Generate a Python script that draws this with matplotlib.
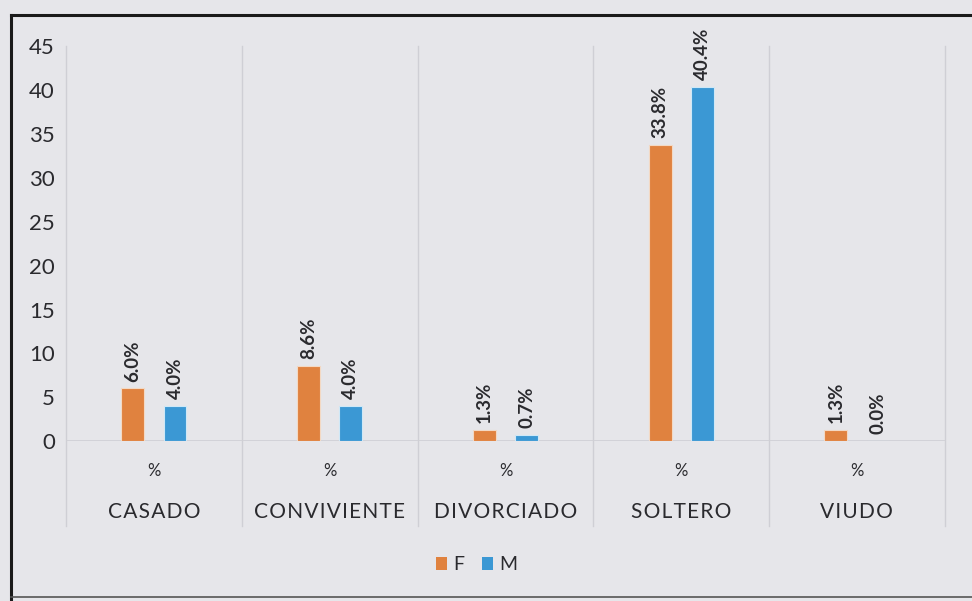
import matplotlib
matplotlib.use("Agg")
import matplotlib.pyplot as plt
from matplotlib.lines import Line2D
from matplotlib.patches import Patch
import numpy as np

categories = ["CASADO", "CONVIVIENTE", "DIVORCIADO", "SOLTERO", "VIUDO"]
sub_label = "%"
series_names = ["F", "M"]
values_f = [6.0, 8.6, 1.3, 33.8, 1.3]
values_m = [4.0, 4.0, 0.7, 40.4, 0.0]
y_ticks = [0, 5, 10, 15, 20, 25, 30, 35, 40, 45]

color_f = "#e0823f"
color_m = "#3b98d4"
bg = "#e6e6ea"
grid_c = "#cfcfd5"
text_c = "#2a2a2e"

plt.rcParams["font.family"] = ["Lato", "DejaVu Sans"]

fig = plt.figure(figsize=(9.72, 6.01), dpi=100, facecolor=bg)
ax = fig.add_axes([0.068, 0.266, 0.904, 0.657])
ax.set_facecolor(bg)

x = np.arange(len(categories))
w = 0.13
off = 0.12
bars_f = ax.bar(x - off, values_f, w, color=color_f, edgecolor="#f3d9c4", linewidth=0.8, zorder=3)
bars_m = ax.bar(x + off, values_m, w, color=color_m, edgecolor="#cfe8f7", linewidth=0.8, zorder=3)

for bars, vals in ((bars_f, values_f), (bars_m, values_m)):
    for b, v in zip(bars, vals):
        ax.annotate(f"{v:.1f}%", (b.get_x() + b.get_width() / 2, v),
                    xytext=(0, 5), textcoords="offset points",
                    rotation=90, ha="center", va="bottom",
                    fontsize=13.5, fontweight="bold", color=text_c, zorder=4)

ax.set_xlim(-0.5, len(categories) - 0.5)
ax.set_ylim(0, 45)
ax.set_yticks(y_ticks)
ax.tick_params(axis="y", length=0, labelsize=16, labelcolor=text_c, pad=8)
ax.set_xticks([])
for s in ax.spines.values():
    s.set_visible(False)

# baseline at zero
ax.axhline(0, color=grid_c, linewidth=1.2, zorder=2)

# category separators, extended down through the label rows
for b in np.arange(-0.5, len(categories), 1.0):
    ax.add_line(Line2D([b, b], [-0.215, 1.0], transform=ax.get_xaxis_transform(),
                       color=grid_c, linewidth=1.0, clip_on=False, zorder=1))

# two-level category labels
for xi, name in zip(x, categories):
    ax.text(xi, -0.075, sub_label, transform=ax.get_xaxis_transform(),
            ha="center", va="center", fontsize=12, color=text_c)
    ax.text(xi, -0.18, "\u200a".join(name), transform=ax.get_xaxis_transform(),
            ha="center", va="center", fontsize=15, color=text_c)

handles = [Patch(facecolor=color_f, edgecolor="none"), Patch(facecolor=color_m, edgecolor="none")]
fig.legend(handles, series_names, loc="center", bbox_to_anchor=(0.49, 0.06),
           ncol=2, frameon=False, fontsize=14, handlelength=0.6, handleheight=0.6,
           handletextpad=0.3, columnspacing=0.9, labelcolor=text_c)

# outer frame
fig.add_artist(Line2D([0.011, 1.0], [0.975, 0.975], color="#1a1a1a", linewidth=2.2))
fig.add_artist(Line2D([0.011, 0.011], [0.0, 0.975], color="#1a1a1a", linewidth=2.2))
fig.add_artist(Line2D([0.011, 1.0], [0.006, 0.006], color="#555555", linewidth=1.2))

fig.savefig("out.png", dpi=100, facecolor=bg)
